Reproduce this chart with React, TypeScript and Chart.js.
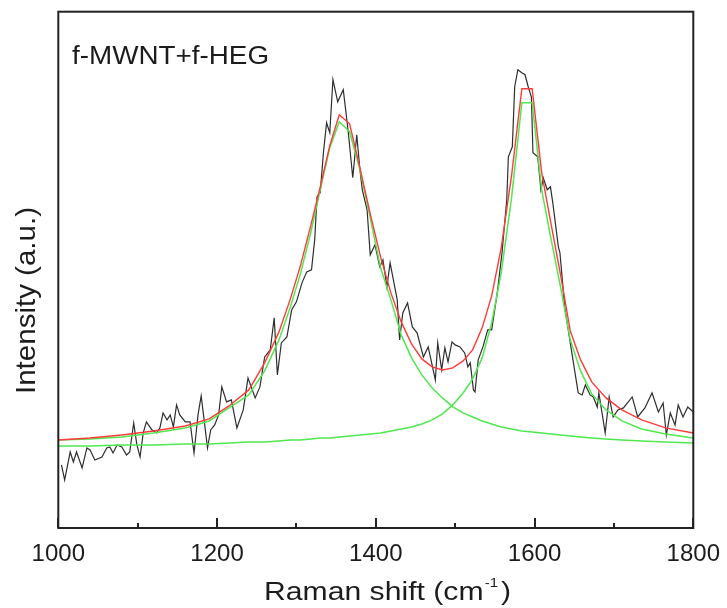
import { useEffect, useRef } from 'react';
import { Chart, registerables } from 'chart.js';

Chart.register(...registerables);

// Measured spectrum (Raman shift in cm^-1, intensity in a.u.)
const rawShift = [
  1004, 1008, 1015, 1019, 1023, 1030, 1036, 1040, 1046, 1055, 1061, 1065, 1069, 1074, 1080, 1086, 1090, 1095, 1099, 1103,
  1107, 1111, 1118, 1124, 1128, 1132, 1137, 1141, 1145, 1149, 1153, 1160, 1166, 1171, 1176, 1180, 1184, 1188, 1192, 1197,
  1202, 1206, 1212, 1218, 1225, 1233, 1239, 1248, 1254, 1260, 1267, 1272, 1276, 1281, 1288, 1294, 1300, 1307, 1313, 1319,
  1323, 1326, 1330, 1334, 1338, 1342, 1346, 1352, 1359, 1365, 1371, 1376, 1380, 1383, 1389, 1393, 1399, 1405, 1409, 1414,
  1418, 1427, 1430, 1434, 1440, 1446, 1452, 1460, 1466, 1475, 1478, 1483, 1487, 1491, 1496, 1500, 1506, 1512, 1516, 1519,
  1523, 1525, 1529, 1535, 1541, 1546, 1553, 1559, 1565, 1567, 1572, 1575, 1579, 1584, 1588, 1592, 1596, 1598, 1604, 1608,
  1611, 1616, 1620, 1623, 1630, 1632, 1638, 1645, 1651, 1655, 1660, 1664, 1670, 1674, 1679, 1681, 1685, 1689, 1694, 1699,
  1705, 1712, 1723, 1730, 1739, 1748, 1756, 1762, 1766, 1771, 1777, 1781, 1787, 1793, 1800,
];
const rawIntensity = [
  63, 48, 76, 66, 76, 60, 80, 78, 68, 71, 80, 81, 75, 83, 81, 73, 76, 105, 83, 71,
  95, 106, 98, 95, 100, 115, 108, 113, 101, 123, 113, 106, 106, 75, 113, 132, 106, 80, 98, 103,
  113, 141, 126, 128, 100, 118, 150, 130, 141, 171, 178, 210, 153, 185, 191, 218, 226, 245, 256, 258,
  288, 331, 335, 375, 405, 395, 448, 426, 438, 398, 350, 393, 358, 338, 318, 273, 283, 261, 268, 241,
  265, 228, 188, 215, 225, 201, 195, 171, 181, 148, 185, 158, 180, 166, 186, 183, 181, 175, 161, 165,
  138, 136, 168, 181, 198, 198, 235, 275, 328, 371, 381, 441, 458, 455, 453, 441, 431, 375, 371, 338,
  350, 338, 341, 325, 281, 275, 221, 185, 155, 135, 133, 143, 133, 131, 121, 135, 115, 95, 131, 111,
  118, 120, 131, 111, 120, 135, 116, 125, 93, 115, 103, 123, 111, 121, 116,
];

// Lorentzian fit curves (shared x grid)
const fitShift = [
  1000, 1040, 1080, 1120, 1160, 1190, 1215, 1240, 1260, 1278, 1292, 1305, 1318, 1330, 1342, 1354, 1367, 1380, 1393, 1406,
  1419, 1432, 1445, 1458, 1471, 1484, 1497, 1510, 1522, 1534, 1546, 1558, 1571, 1584, 1597, 1609, 1621, 1633, 1645, 1658,
  1672, 1690, 1710, 1735, 1765, 1800,
];
const dBandFit = [
  88, 89, 91, 95, 100, 107, 120, 133, 157, 188, 220, 254, 295, 338, 380, 406, 396, 358, 310, 260,
  228, 193, 170, 153, 140, 130, 121, 115, 111, 107, 104, 101, 99, 97, 96, 95, 94, 93, 92, 91,
  90, 89, 88, 87, 86, 85,
];
const gBandFit = [
  82, 82, 83, 83, 84, 84, 85, 86, 86, 87, 88, 88, 89, 90, 90, 91, 92, 93, 94, 95,
  97, 99, 101, 104, 108, 114, 123, 135, 149, 170, 205, 255, 330, 425, 425, 338, 288, 240, 188, 157,
  134, 118, 107, 99, 94, 90,
];
const sumFit = [
  88, 90, 93, 97, 102, 109, 122, 138, 165, 196, 228, 262, 302, 341, 382, 413, 404, 360, 314, 271,
  235, 206, 184, 169, 161, 158, 160, 167, 178, 200, 232, 280, 352, 439, 439, 355, 303, 252, 197, 168,
  146, 130, 118, 108, 100, 95,
];

const tickValues = [1000, 1100, 1200, 1300, 1400, 1500, 1600, 1700, 1800];
const tickLabels = ['1000', '', '1200', '', '1400', '', '1600', '', '1800'];
const majorTicks = [1000, 1200, 1400, 1600, 1800];

const sampleLabel = 'f-MWNT+f-HEG';
const xTitleMain = 'Raman shift (cm';
const xTitleSup = '-1';
const xTitleEnd = ')';
const yTitle = 'Intensity (a.u.)';

const FONT = "'Liberation Sans', Arial, sans-serif";
const INK = '#1c1c1c';

const zip = (xs: number[], ys: number[]) => xs.map((x, i) => ({ x, y: ys[i] }));

const decorPlugin = {
  id: 'decor',
  afterDatasetsDraw(chart: any) {
    const { ctx, chartArea } = chart;
    const xs = chart.scales.x;
    ctx.save();
    ctx.strokeStyle = '#222';
    ctx.lineWidth = 2;
    // inward tick marks
    tickValues.forEach((v) => {
      const px = Math.round(xs.getPixelForValue(v));
      const len = majorTicks.includes(v) ? 10 : 5;
      ctx.beginPath();
      ctx.moveTo(px, chartArea.bottom);
      ctx.lineTo(px, chartArea.bottom - len);
      ctx.stroke();
    });
    // frame
    ctx.strokeRect(chartArea.left, chartArea.top, chartArea.right - chartArea.left, chartArea.bottom - chartArea.top);
    ctx.restore();
  },
  afterDraw(chart: any) {
    const { ctx } = chart;
    ctx.save();
    ctx.fillStyle = INK;
    ctx.textAlign = 'left';
    ctx.textBaseline = 'alphabetic';

    // sample label
    ctx.save();
    ctx.translate(72, 63.5);
    ctx.scale(1.07, 1);
    ctx.font = `26px ${FONT}`;
    ctx.fillText(sampleLabel, 0, 0);
    ctx.restore();

    // x title
    ctx.save();
    ctx.translate(264, 600);
    ctx.scale(1.16, 1);
    ctx.font = `26px ${FONT}`;
    ctx.fillText(xTitleMain, 0, 0);
    const w1 = ctx.measureText(xTitleMain).width;
    ctx.font = `13px ${FONT}`;
    ctx.fillText(xTitleSup, w1 + 1, -13);
    const w2 = ctx.measureText(xTitleSup).width;
    ctx.font = `26px ${FONT}`;
    ctx.fillText(xTitleEnd, w1 + w2 + 3.5, 0);
    ctx.restore();

    // y title
    ctx.save();
    ctx.translate(35, 394);
    ctx.rotate(-Math.PI / 2);
    ctx.scale(1.054, 1);
    ctx.font = `28px ${FONT}`;
    ctx.fillText(yTitle, 0, 0);
    ctx.restore();

    ctx.restore();
  },
};

export default function App() {
  const canvasRef = useRef<HTMLCanvasElement | null>(null);

  useEffect(() => {
    if (!canvasRef.current) return;
    const chart = new Chart(canvasRef.current, {
      type: 'line',
      data: {
        datasets: [
          {
            label: 'Cumulative fit',
            data: zip(fitShift, sumFit),
            borderColor: '#ff3a3a',
            borderWidth: 1.4,
            pointRadius: 0,
            tension: 0,
            fill: false,
            order: 1,
          },
          {
            label: 'D band',
            data: zip(fitShift, dBandFit),
            borderColor: '#4fe84f',
            borderWidth: 1.5,
            pointRadius: 0,
            tension: 0,
            fill: false,
            order: 2,
          },
          {
            label: 'G band',
            data: zip(fitShift, gBandFit),
            borderColor: '#4fe84f',
            borderWidth: 1.5,
            pointRadius: 0,
            tension: 0,
            fill: false,
            order: 3,
          },
          {
            label: 'Measured',
            data: zip(rawShift, rawIntensity),
            borderColor: '#2e2e2e',
            borderWidth: 1.2,
            pointRadius: 0,
            tension: 0,
            fill: false,
            order: 4,
          },
        ],
      },
      options: {
        animation: false,
        responsive: false,
        devicePixelRatio: 1,
        layout: { padding: { left: 58.3, right: 33.7, top: 11.7, bottom: 0 } },
        plugins: {
          legend: { display: false },
          tooltip: { enabled: false },
        },
        scales: {
          x: {
            type: 'linear',
            min: 1000,
            max: 1800,
            grid: { display: false },
            border: { display: false },
            afterBuildTicks: (scale: any) => {
              scale.ticks = tickValues.map((v) => ({ value: v }));
            },
            afterFit: (scale: any) => {
              scale.height = 80;
            },
            ticks: {
              autoSkip: false,
              maxRotation: 0,
              padding: 4,
              color: INK,
              font: { family: FONT, size: 24 },
              callback: (_v: any, i: number) => tickLabels[i],
            },
          },
          y: {
            display: false,
            min: 0,
            max: 516,
          },
        },
      },
      plugins: [decorPlugin],
    });
    return () => chart.destroy();
  }, []);

  return (
    <div style={{ position: 'absolute', left: 0, top: 0, width: 727, height: 608, background: '#fff' }}>
      <canvas ref={canvasRef} width={727} height={608} style={{ display: 'block' }} />
    </div>
  );
}
